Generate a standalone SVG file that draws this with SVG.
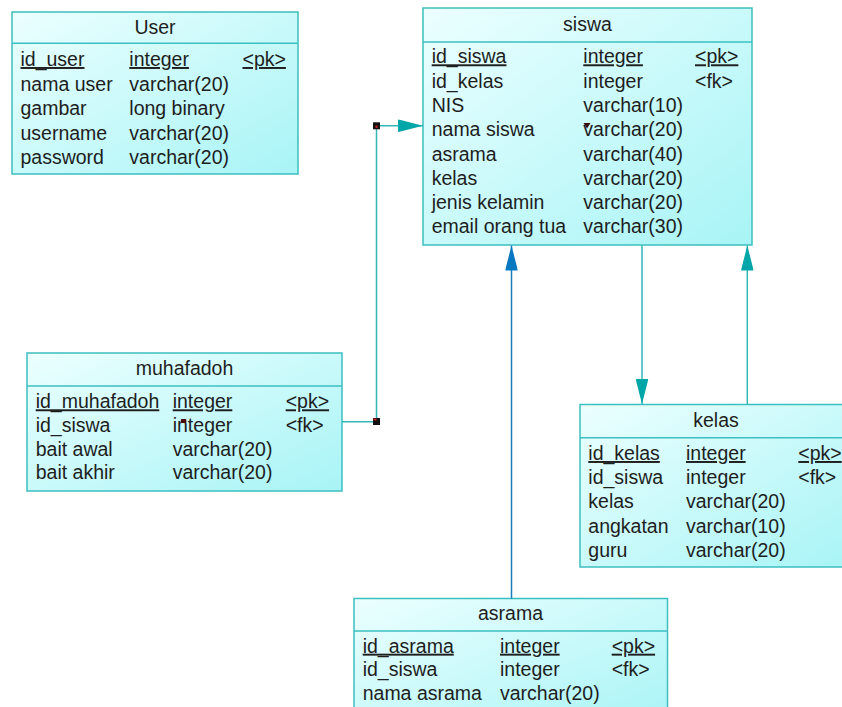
<svg xmlns="http://www.w3.org/2000/svg" width="842" height="707" viewBox="0 0 842 707">
<defs>
<linearGradient id="g" x1="0" y1="0" x2="1" y2="1">
<stop offset="0" stop-color="#ecffff"/>
<stop offset="1" stop-color="#a8f4f6"/>
</linearGradient>
<marker id="at" viewBox="0 0 25 13" refX="25" refY="6.5" markerWidth="25" markerHeight="13" orient="auto" markerUnits="userSpaceOnUse">
<path d="M0,0.3 L3.5,1 L25,6.5 L3.5,12 L0,12.7 Z" fill="#00a6a8"/>
</marker>
<marker id="ab" viewBox="0 0 25 13" refX="25" refY="6.5" markerWidth="25" markerHeight="13" orient="auto" markerUnits="userSpaceOnUse">
<path d="M0,0.3 L3.5,1 L25,6.5 L3.5,12 L0,12.7 Z" fill="#0878c0"/>
</marker>
<style>
.box{fill:url(#g);stroke:#3cbfc0;stroke-width:1.5}
.sep{stroke:#3cbfc0;stroke-width:1.5}
text{font-family:"Liberation Sans",Arial,sans-serif;font-size:19.5px;fill:#1e1e1e}
.ti{text-anchor:middle}
.u{text-decoration:underline}
.ct{fill:none;stroke:#33b8b8;stroke-width:1.5}
.cb{fill:none;stroke:#1a7cba;stroke-width:1.5}
</style>
</defs>
<rect width="842" height="707" fill="#ffffff"/>

<g id="node-user">
<rect class="box" x="12" y="12" width="286" height="162"/>
<line class="sep" x1="12" y1="43.3" x2="298" y2="43.3"/>
<text class="ti" x="155" y="33.5">User</text>
<text class="u" x="20.5" y="66">id_user</text><text class="u" x="129.3" y="66">integer</text><text class="u" x="242.5" y="66">&lt;pk&gt;</text>
<text x="20.5" y="90.5">nama user</text><text x="129.3" y="90.5">varchar(20)</text>
<text x="20.5" y="115">gambar</text><text x="129.3" y="115">long binary</text>
<text x="20.5" y="139.5">username</text><text x="129.3" y="139.5">varchar(20)</text>
<text x="20.5" y="164">password</text><text x="129.3" y="164">varchar(20)</text>
</g>

<g id="node-siswa">
<rect class="box" x="423" y="8" width="329" height="237"/>
<line class="sep" x1="423" y1="42" x2="752" y2="42"/>
<text class="ti" x="587.5" y="31">siswa</text>
<text class="u" x="431.7" y="63.3">id_siswa</text><text class="u" x="583.3" y="63.3">integer</text><text class="u" x="695" y="63.3">&lt;pk&gt;</text>
<text x="431.7" y="87.6">id_kelas</text><text x="583.3" y="87.6">integer</text><text x="695" y="87.6">&lt;fk&gt;</text>
<text x="431.7" y="111.9">NIS</text><text x="583.3" y="111.9">varchar(10)</text>
<text x="431.7" y="136.2">nama siswa</text><text x="583.3" y="136.2">varchar(20)</text>
<text x="431.7" y="160.5">asrama</text><text x="583.3" y="160.5">varchar(40)</text>
<text x="431.7" y="184.8">kelas</text><text x="583.3" y="184.8">varchar(20)</text>
<text x="431.7" y="209.1">jenis kelamin</text><text x="583.3" y="209.1">varchar(20)</text>
<text x="431.7" y="233.4">email orang tua</text><text x="583.3" y="233.4">varchar(30)</text>
<polygon points="583.5,123 590.5,123 587,128.5" fill="#3a0a0a"/>
</g>

<g id="node-muhafadoh">
<rect class="box" x="27" y="353" width="315" height="138"/>
<line class="sep" x1="27" y1="386" x2="342" y2="386"/>
<text class="ti" x="184.5" y="375">muhafadoh</text>
<text class="u" x="35.7" y="408.3">id_muhafadoh</text><text class="u" x="172.7" y="408.3">integer</text><text class="u" x="285.7" y="408.3">&lt;pk&gt;</text>
<text x="35.7" y="432">id_siswa</text><text x="172.7" y="432">integer</text><text x="285.7" y="432">&lt;fk&gt;</text>
<text x="35.7" y="455.7">bait awal</text><text x="172.7" y="455.7">varchar(20)</text>
<text x="35.7" y="479.4">bait akhir</text><text x="172.7" y="479.4">varchar(20)</text>
<rect x="180.8" y="419" width="5.5" height="4" rx="1" fill="#4a0a0a"/>
</g>

<g id="node-kelas">
<rect class="box" x="580" y="404.5" width="272" height="162.5"/>
<line class="sep" x1="580" y1="437.7" x2="852" y2="437.7"/>
<text class="ti" x="716" y="426.7">kelas</text>
<text class="u" x="588.3" y="460">id_kelas</text><text class="u" x="686" y="460">integer</text><text class="u" x="798.3" y="460">&lt;pk&gt;</text>
<text x="588.3" y="484.2">id_siswa</text><text x="686" y="484.2">integer</text><text x="798.3" y="484.2">&lt;fk&gt;</text>
<text x="588.3" y="508.4">kelas</text><text x="686" y="508.4">varchar(20)</text>
<text x="588.3" y="532.6">angkatan</text><text x="686" y="532.6">varchar(10)</text>
<text x="588.3" y="556.8">guru</text><text x="686" y="556.8">varchar(20)</text>
</g>

<g id="node-asrama">
<rect class="box" x="354" y="598.5" width="313.5" height="130"/>
<line class="sep" x1="354" y1="631" x2="667.5" y2="631"/>
<text class="ti" x="510.5" y="620">asrama</text>
<text class="u" x="362.7" y="652.7">id_asrama</text><text class="u" x="500" y="652.7">integer</text><text class="u" x="611.7" y="652.7">&lt;pk&gt;</text>
<text x="362.7" y="676.4">id_siswa</text><text x="500" y="676.4">integer</text><text x="611.7" y="676.4">&lt;fk&gt;</text>
<text x="362.7" y="700">nama asrama</text><text x="500" y="700">varchar(20)</text>
</g>

<g id="connectors">
<path class="ct" d="M342,421.7 H376.5 V125.8 H423" marker-end="url(#at)"/>
<rect x="373" y="122.3" width="7" height="7" fill="#111"/>
<rect x="375.5" y="125.5" width="2" height="2.5" fill="#c02020"/>
<rect x="373" y="418" width="7" height="7" fill="#111"/>
<rect x="373.5" y="418.5" width="3" height="2" fill="#c02020"/>
<path class="ct" d="M642,245 V404" marker-end="url(#at)"/>
<path class="ct" d="M747.3,404.5 V245.5" marker-end="url(#at)"/>
<path class="cb" d="M511.5,598.5 V245.5" marker-end="url(#ab)"/>
</g>
</svg>
